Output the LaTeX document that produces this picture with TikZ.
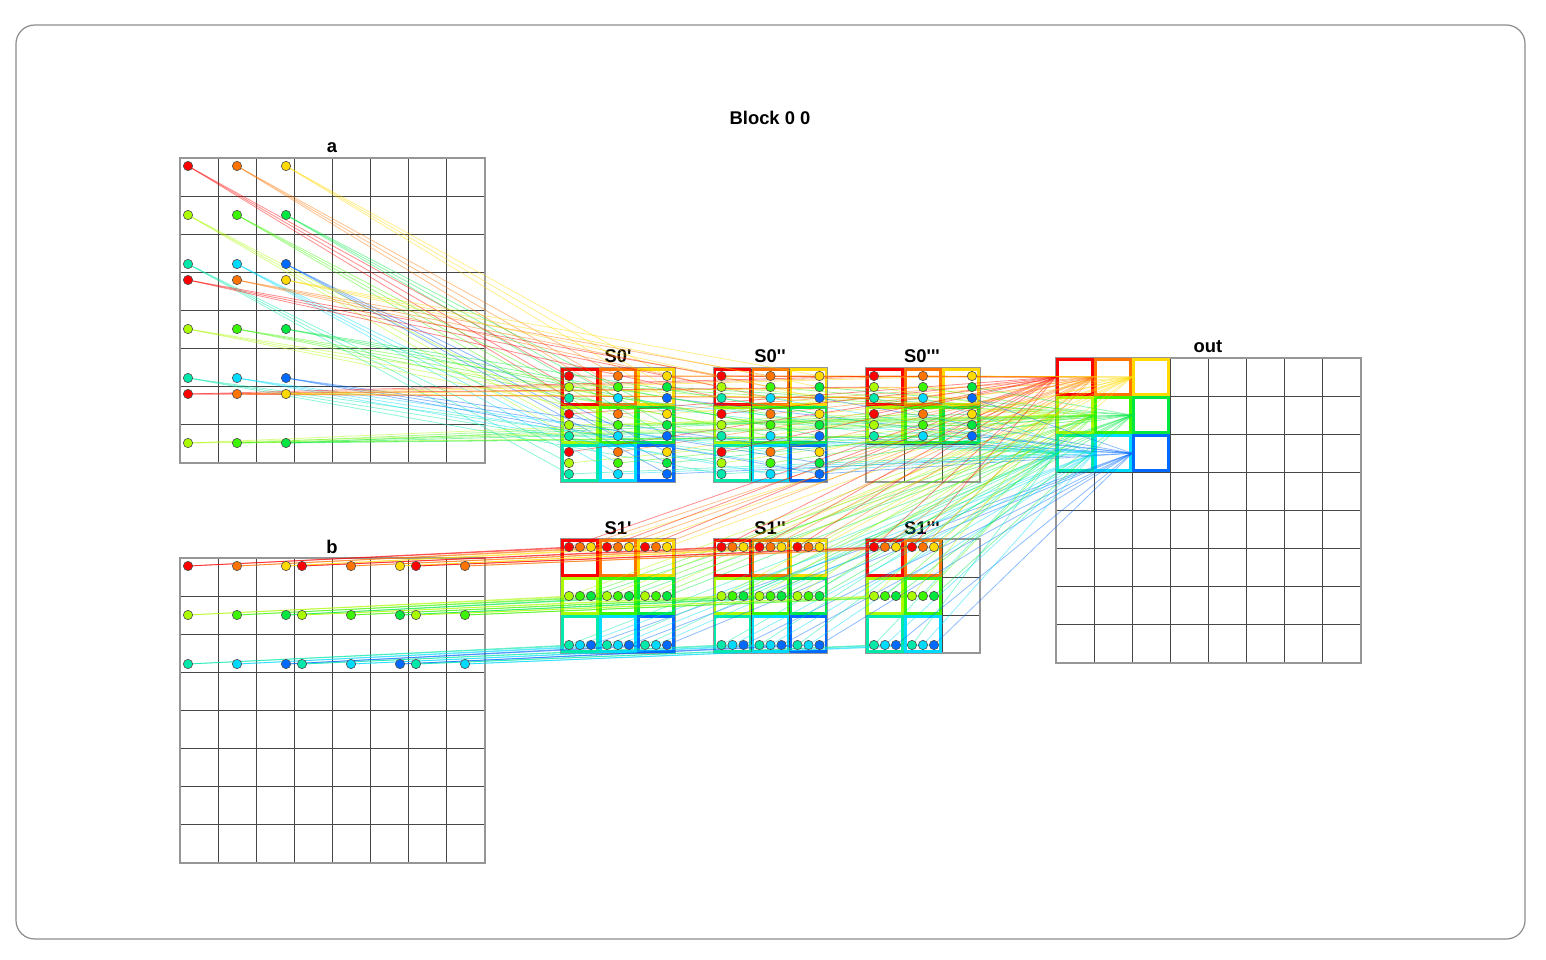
\documentclass[tikz,border=0pt]{standalone}
\usepackage{fontspec}
\setmainfont{Liberation Sans}
\definecolor{c0}{RGB}{255,0,0}
\definecolor{c1}{RGB}{255,115,0}
\definecolor{c2}{RGB}{255,218,0}
\definecolor{c3}{RGB}{170,250,0}
\definecolor{c4}{RGB}{60,245,0}
\definecolor{c5}{RGB}{0,232,64}
\definecolor{c6}{RGB}{0,232,170}
\definecolor{c7}{RGB}{0,218,255}
\definecolor{c8}{RGB}{0,105,255}
\definecolor{framegray}{RGB}{140,140,140}
\definecolor{gridin}{RGB}{70,70,70}
\definecolor{gridout}{RGB}{150,150,150}
\definecolor{dotline}{RGB}{80,80,80}
\tikzset{
  frameline/.style={draw=framegray, line width=0.9pt, rounded corners=14pt},
  gin/.style={draw=gridin, line width=0.7pt},
  gout/.style={draw=gridout, line width=1.1pt},
  ln/.style={line width=0.6pt, opacity=0.45},
  scell/.style={line width=1.9pt},
  ocell/.style={line width=2.3pt},
  dot/.style={circle, draw=dotline, line width=0.45pt, inner sep=0pt, minimum size=7pt},
  lab/.style={font=\bfseries\fontsize{13.8}{15}\selectfont, inner sep=0pt}
}
\newcommand{\biggrid}[2]{%
  \foreach \t in {1,...,7} {
    \draw[gin] ({#1+\t*38.125},#2) -- ++(0,305);
    \draw[gin] (#1,{#2+\t*38.125}) -- ++(305,0);
  }
  \draw[gout] (#1,#2) rectangle ++(305,305);
}
\newcommand{\smallgrid}[2]{%
  \foreach \t in {1,2} {
    \draw[gin] ({#1+\t*38},#2) -- ++(0,114);
    \draw[gin] (#1,{#2+\t*38}) -- ++(114,0);
  }
  \draw[gout] (#1,#2) rectangle ++(114,114);
}
\begin{document}
\begin{tikzpicture}[x=0.75pt,y=-0.75pt]
\useasboundingbox (0,0) rectangle (1546,960);
\draw[frameline] (16,25) rectangle (1525,939);

% labels
\node[lab] (title) at (770,118) {Block 0 0};
\node[lab] (la) at (332,148) {a};
\node[lab] (lb) at (332,547) {b};
\node[lab] (lout) at (1208,347) {out};
\node[lab] (ls0a) at (618,356) {S0\textquotesingle};
\node[lab] (ls0b) at (770,356) {S0\textquotesingle\textquotesingle};
\node[lab] (ls0c) at (922,356) {S0\textquotesingle\textquotesingle\textquotesingle};
\node[lab] (ls1a) at (618,528) {S1\textquotesingle};
\node[lab] (ls1b) at (770,528) {S1\textquotesingle\textquotesingle};
\node[lab] (ls1c) at (922,528) {S1\textquotesingle\textquotesingle\textquotesingle};

% grids
\biggrid{180}{158}
\biggrid{180}{558}
\biggrid{1056}{358}
\foreach \k in {0,1,2} {
  \pgfmathsetmacro{\sx}{561+152.5*\k}
  \smallgrid{\sx}{368}
  \smallgrid{\sx}{539}
}

% coloured cells
\foreach \k in {0,1,2} {
  \pgfmathsetmacro{\sx}{561+152.5*\k}
  \foreach \i in {0,1,2} {
    \foreach \j in {0,1,2} {
      \pgfmathtruncatemacro{\cc}{3*\i+\j}
      \ifnum\k\i=22 \else
        \draw[scell, draw=c\cc] ({\sx+38*\j+1.3},{368+38*\i+1.3}) rectangle ++(35.4,35.4);
      \fi
      \ifnum\k\j=22 \else
        \draw[scell, draw=c\cc] ({\sx+38*\j+1.3},{539+38*\i+1.3}) rectangle ++(35.4,35.4);
      \fi
    }
  }
}
\foreach \m in {0,1,2} {
  \foreach \n in {0,1,2} {
    \pgfmathtruncatemacro{\cc}{3*\m+\n}
    \draw[ocell, draw=c\cc] ({1056+38.125*\n+1.6},{358+38.125*\m+1.6}) rectangle ++(34.9,34.9);
    \coordinate (o\m\n) at ({1056+38.125*\n},{358+38.125*\m+19});
  }
}

% coordinates of dots
\foreach \k in {0,1,2} {
  \pgfmathsetmacro{\sx}{561+152.5*\k}
  \foreach \i in {0,1,2} {
    \foreach \j in {0,1,2} {
      \coordinate (a\k\i\j) at ({188+49*\j},{166+114*\k+49*\i});
      \coordinate (b\k\i\j) at ({188+114*\k+49*\j},{566+49*\i});
      \foreach \v in {0,1,2} {
        \coordinate (p\k\i\j\v) at ({\sx+38*\j+8+11*\j},{368+38*\i+8+11*\v});
        \coordinate (q\k\i\j\v) at ({\sx+38*\j+8+11*\v},{539+38*\i+8+11*\i});
      }
    }
  }
}

% connectors
\foreach \k in {0,1,2} {
  \foreach \i in {0,1,2} {
    \foreach \j in {0,1,2} {
      \pgfmathtruncatemacro{\cc}{3*\i+\j}
      \ifnum\k\i=22 \else
        \foreach \v in {0,1,2} {
          \pgfmathtruncatemacro{\dc}{3*\v+\j}
          \draw[ln, draw=c\cc] (a\k\i\j) -- (p\k\i\j\v);
          \draw[ln, draw=c\dc] (p\k\i\j\v) -- (o\v\j);
        }
      \fi
      \ifnum\k\j=22 \else
        \foreach \v in {0,1,2} {
          \pgfmathtruncatemacro{\dc}{3*\i+\v}
          \draw[ln, draw=c\cc] (b\k\i\j) -- (q\k\i\j\v);
          \draw[ln, draw=c\dc] (q\k\i\j\v) -- (o\i\v);
        }
      \fi
    }
  }
}

% dots
\foreach \k in {0,1,2} {
  \foreach \i in {0,1,2} {
    \foreach \j in {0,1,2} {
      \pgfmathtruncatemacro{\cc}{3*\i+\j}
      \ifnum\k\i=22 \else
        \node[dot, fill=c\cc] (A\k\i\j) at (a\k\i\j) {};
        \foreach \v in {0,1,2} {
          \pgfmathtruncatemacro{\dc}{3*\v+\j}
          \node[dot, fill=c\dc] (P\k\i\j\v) at (p\k\i\j\v) {};
        }
      \fi
      \ifnum\k\j=22 \else
        \node[dot, fill=c\cc] (B\k\i\j) at (b\k\i\j) {};
        \foreach \v in {0,1,2} {
          \pgfmathtruncatemacro{\dc}{3*\i+\v}
          \node[dot, fill=c\dc] (Q\k\i\j\v) at (q\k\i\j\v) {};
        }
      \fi
    }
  }
}
\end{tikzpicture}
\end{document}
